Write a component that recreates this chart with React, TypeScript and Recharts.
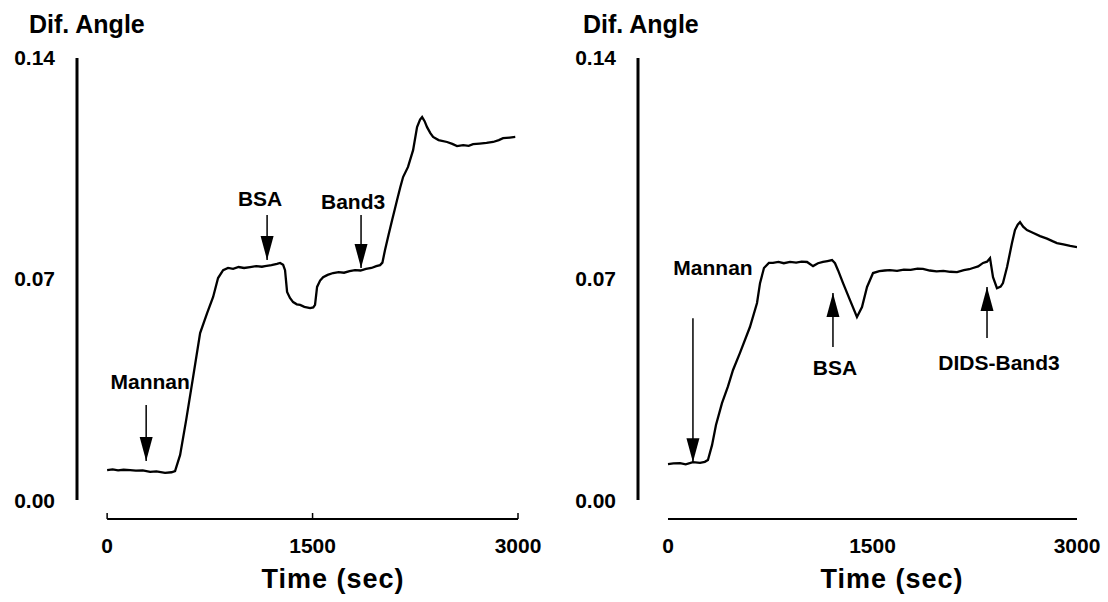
import React from 'react';
import { LineChart, Line, XAxis, YAxis, ReferenceLine, ReferenceDot } from 'recharts';

// time axis (sec) and Dif. Angle axis
const timeTicks = [0, 1500, 3000];
const angleTicks = [0, 0.07, 0.14];

// left panel: Mannan -> BSA -> Band3
const leftTime = [
  0, 40, 80, 120, 168, 210, 260, 314, 360, 423,
  470, 496, 533, 577, 628, 679, 730, 774, 810, 847,
  883, 920, 960, 1000, 1044, 1090, 1130, 1153, 1200, 1240,
  1263, 1285, 1299, 1314, 1335, 1358, 1385, 1409, 1440, 1482,
  1505, 1518, 1533, 1555, 1577, 1610, 1650, 1690, 1730, 1770,
  1810, 1850, 1890, 1930, 1965, 1993, 2010, 2029, 2055, 2081,
  2100, 2117, 2140, 2161, 2197, 2234, 2263, 2285, 2300, 2318,
  2336, 2360, 2380, 2420, 2482, 2520, 2555, 2600, 2640, 2672,
  2720, 2770, 2818, 2860, 2891, 2940, 2980,
];
const leftAngle = [
  0.0095, 0.0097, 0.0094, 0.0096, 0.0095, 0.0093, 0.0094, 0.0089, 0.0091, 0.0086,
  0.0088, 0.0092, 0.0143, 0.0253, 0.039, 0.0529, 0.0592, 0.0643, 0.0703, 0.0728,
  0.0735, 0.0732, 0.0738, 0.0735, 0.0738, 0.0741, 0.0739, 0.0741, 0.0744, 0.0748,
  0.0751, 0.0745, 0.0728, 0.0659, 0.064, 0.0627, 0.062, 0.0618, 0.0612, 0.0608,
  0.061, 0.0618, 0.0675, 0.0695, 0.0706, 0.0713, 0.0719, 0.0722, 0.072, 0.0725,
  0.0728, 0.0727, 0.0732, 0.0735, 0.0741, 0.0744, 0.0752, 0.0792, 0.084, 0.0887,
  0.092, 0.095, 0.099, 0.1023, 0.1055, 0.1108, 0.1181, 0.1205, 0.1213, 0.12,
  0.1181, 0.1162, 0.115, 0.114, 0.1134, 0.1128, 0.1121, 0.1124, 0.1122, 0.1127,
  0.1129, 0.1131, 0.1134, 0.114, 0.1146, 0.1148, 0.115,
];

// right panel: Mannan -> BSA -> DIDS-Band3
const rightTime = [
  0, 40, 88, 130, 183, 235, 270, 293, 323, 352,
  396, 440, 477, 528, 601, 653, 675, 704, 740, 770,
  810, 850, 895, 940, 980, 1020, 1064, 1100, 1137, 1170,
  1203, 1225, 1247, 1284, 1335, 1386, 1423, 1460, 1504, 1550,
  1590, 1628, 1680, 1730, 1780, 1830, 1870, 1920, 1970, 2020,
  2070, 2120, 2170, 2210, 2237, 2275, 2311, 2340, 2362, 2384,
  2413, 2440, 2457, 2487, 2523, 2545, 2565, 2582, 2605, 2633,
  2680, 2729, 2780, 2820, 2853, 2900, 2950, 3000,
];
const rightAngle = [
  0.0114, 0.0116, 0.0117, 0.0113, 0.012, 0.0118, 0.0121, 0.0127, 0.0174, 0.0238,
  0.0307, 0.036, 0.0412, 0.0466, 0.0548, 0.0624, 0.0687, 0.0735, 0.0751, 0.0751,
  0.0754, 0.075, 0.0754, 0.0752, 0.0755, 0.0754, 0.0741, 0.075, 0.0754, 0.0757,
  0.076, 0.075, 0.0728, 0.0687, 0.0633, 0.058, 0.0611, 0.0675, 0.0719, 0.0725,
  0.0727, 0.0728, 0.0726, 0.073, 0.0729, 0.0733, 0.0732, 0.0727, 0.0724, 0.0726,
  0.0723, 0.0722, 0.0728, 0.0731, 0.0735, 0.074, 0.0751, 0.0755, 0.0766, 0.0706,
  0.0671, 0.0676, 0.0687, 0.0738, 0.0814, 0.0855, 0.0872, 0.088, 0.0866, 0.0855,
  0.0846, 0.0836, 0.0828, 0.082, 0.0814, 0.081, 0.0805, 0.0801,
];

type Note = {
  label: string;
  t: number;
  tip: number;
  tail: number;
  textT: number;
  textV: number;
  dir: 'down' | 'up';
};

const leftNotes: Note[] = [
  { label: 'Mannan', t: 285, tip: 0.0124, tail: 0.0301, textT: 314, textV: 0.0374, dir: 'down' },
  { label: 'BSA', t: 1168, tip: 0.076, tail: 0.0903, textT: 1117, textV: 0.0956, dir: 'down' },
  { label: 'Band3', t: 1854, tip: 0.0735, tail: 0.0903, textT: 1796, textV: 0.0944, dir: 'down' },
];

const rightNotes: Note[] = [
  { label: 'Mannan', t: 183, tip: 0.012, tail: 0.0576, textT: 330, textV: 0.0735, dir: 'down' },
  { label: 'BSA', t: 1210, tip: 0.0656, tail: 0.0485, textT: 1225, textV: 0.0421, dir: 'up' },
  { label: 'DIDS-Band3', t: 2340, tip: 0.0675, tail: 0.0513, textT: 2428, textV: 0.0437, dir: 'up' },
];

const X_MIN = -220;
const Y_MIN = -0.006;
const FONT = '"Liberation Sans", Arial, sans-serif';

function arrowHead(dir: 'down' | 'up') {
  return (p: any) => {
    const { cx, cy } = p;
    const h = dir === 'down' ? -24 : 24;
    return <polygon points={`${cx},${cy} ${cx - 6.5},${cy + h} ${cx + 6.5},${cy + h}`} fill="#000" />;
  };
}

function noteText(label: string) {
  return (p: any) => (
    <text
      x={p.cx}
      y={p.cy}
      textAnchor="middle"
      dominantBaseline="central"
      fontFamily={FONT}
      fontWeight={700}
      fontSize={21}
      fill="#000"
    >
      {label}
    </text>
  );
}

interface PanelProps {
  time: number[];
  angle: number[];
  notes: Note[];
  left: number;
  marginLeft: number;
  marginRight: number;
  tickMarks: boolean;
}

function Panel({ time, angle, notes, left, marginLeft, marginRight, tickMarks }: PanelProps) {
  const data = time.map((t, i) => ({ t, v: angle[i] }));
  const tickStyle = { fill: '#000', fontSize: 21, fontWeight: 700, fontFamily: FONT };
  return (
    <div style={{ position: 'absolute', left, top: 0 }}>
      <LineChart
        width={554}
        height={602}
        data={data}
        margin={{ top: 58, right: marginRight, bottom: 43, left: marginLeft }}
      >
        <XAxis
          dataKey="t"
          type="number"
          domain={[X_MIN, 3000]}
          ticks={timeTicks}
          interval={0}
          axisLine={false}
          tickLine={tickMarks ? { stroke: '#000', strokeWidth: 1.5 } : false}
          tickSize={tickMarks ? -6 : 0}
          tickMargin={tickMarks ? 25 : 19}
          height={40}
          tick={tickStyle}
          allowDataOverflow
        />
        <YAxis
          type="number"
          domain={[Y_MIN, 0.14]}
          ticks={angleTicks}
          interval={0}
          tickFormatter={(v: number) => v.toFixed(2)}
          axisLine={false}
          tickLine={false}
          tickSize={0}
          tickMargin={22}
          width={60}
          tick={tickStyle}
          allowDataOverflow
        />
        <ReferenceLine
          segment={[{ x: 0, y: Y_MIN }, { x: 3000, y: Y_MIN }]}
          stroke="#000"
          strokeWidth={2}
        />
        <ReferenceLine
          segment={[{ x: X_MIN, y: 0 }, { x: X_MIN, y: 0.14 }]}
          stroke="#000"
          strokeWidth={3}
        />
        {notes.map((n) => (
          <ReferenceLine
            key={n.label + 'shaft'}
            segment={[{ x: n.t, y: n.tail }, { x: n.t, y: n.tip }]}
            stroke="#000"
            strokeWidth={1.5}
          />
        ))}
        {notes.map((n) => (
          <ReferenceDot key={n.label + 'head'} x={n.t} y={n.tip} r={1} shape={arrowHead(n.dir)} />
        ))}
        {notes.map((n) => (
          <ReferenceDot key={n.label + 'text'} x={n.textT} y={n.textV} r={1} shape={noteText(n.label)} />
        ))}
        <Line
          dataKey="v"
          type="linear"
          stroke="#000"
          strokeWidth={2.3}
          dot={false}
          isAnimationActive={false}
        />
      </LineChart>
    </div>
  );
}

const titleStyle: React.CSSProperties = {
  position: 'absolute',
  fontFamily: FONT,
  fontWeight: 700,
  lineHeight: 1,
  color: '#000',
  whiteSpace: 'nowrap',
};

export default function App() {
  return (
    <div style={{ position: 'absolute', left: 0, top: 0, width: 1108, height: 602, background: '#fff' }}>
      <Panel time={leftTime} angle={leftAngle} notes={leftNotes} left={0} marginLeft={17} marginRight={36} tickMarks />
      <Panel time={rightTime} angle={rightAngle} notes={rightNotes} left={554} marginLeft={24} marginRight={31} tickMarks={false} />
      <div style={{ ...titleStyle, left: 29, top: 12, fontSize: 25 }}>Dif. Angle</div>
      <div style={{ ...titleStyle, left: 583, top: 12, fontSize: 25 }}>Dif. Angle</div>
      <div style={{ ...titleStyle, left: 233, width: 200, textAlign: 'center', top: 566, fontSize: 27, letterSpacing: 1 }}>
        Time (sec)
      </div>
      <div style={{ ...titleStyle, left: 792, width: 200, textAlign: 'center', top: 566, fontSize: 27, letterSpacing: 1 }}>
        Time (sec)
      </div>
    </div>
  );
}
